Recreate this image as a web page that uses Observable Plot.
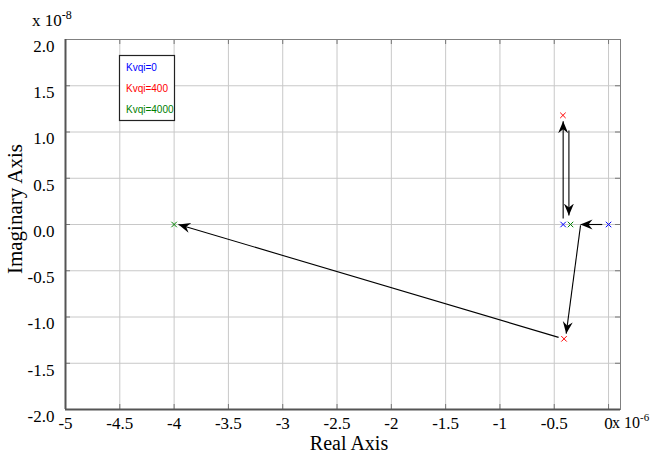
<!DOCTYPE html>
<html>
<head>
<meta charset="utf-8">
<script src="https://cdn.jsdelivr.net/npm/d3@7"></script>
<script src="https://cdn.jsdelivr.net/npm/@observablehq/plot@0.6"></script>
<style>
  html, body { margin: 0; padding: 0; background: #fff; }
</style>
</head>
<body>
<div id="chart"></div>
<script>
// ---- data (units: real ×1e-6, imaginary ×1e-8) ----
const seriesNames = ["Kvqi=0", "Kvqi=400", "Kvqi=4000"];
const seriesColors = ["#0000ff", "#ff0000", "#008000"];
const poleRe0 = [0, -0.418];
const poleIm0 = [0, 0];
const poleRe400 = [-0.42, -0.41];
const poleIm400 = [1.18, -1.236];
const poleRe4000 = [-0.35, -4.0];
const poleIm4000 = [0, 0];
// arrows (start -> end)
const arrowX1 = [-0.418, -0.365, -0.058, -0.258, -0.46];
const arrowY1 = [0.065, 1.016, 0, -0.01, -1.22];
const arrowX2 = [-0.418, -0.365, -0.258, -0.39, -3.96];
const arrowY2 = [1.117, 0.097, 0, -1.18, 0];
const xTicks = [-5, -4.5, -4, -3.5, -3, -2.5, -2, -1.5, -1, -0.5, 0];
const yTicks = [-2, -1.5, -1, -0.5, 0, 0.5, 1, 1.5, 2];
const xLabel = "Real Axis";
const yLabel = "Imaginary Axis";

// ---- build tables ----
const poleRe = [poleRe0, poleRe400, poleRe4000];
const poleIm = [poleIm0, poleIm400, poleIm4000];
const poles = [];
seriesNames.forEach((name, k) => {
  poleRe[k].forEach((re, i) => poles.push({series: name, re, im: poleIm[k][i]}));
});
const arrows = arrowX1.map((x1, i) => ({x1, y1: arrowY1[i], x2: arrowX2[i], y2: arrowY2[i]}));

// ---- layout ----
const W = 652, H = 453, mL = 65, mR = 32, mT = 39, mB = 44;
const iw = W - mL - mR, ih = H - mT - mB;
const serif = "'Liberation Serif', 'Times New Roman', serif";
const sans = "'Liberation Sans', Arial, sans-serif";

function arrowHead(color) {
  const m = d3.create("svg:marker")
    .attr("viewBox", "-12 -6 12 12")
    .attr("markerWidth", 12).attr("markerHeight", 12)
    .attr("markerUnits", "userSpaceOnUse")
    .attr("refX", 0).attr("refY", 0)
    .attr("orient", "auto");
  m.append("path").attr("d", "M0,0L-12,-5L-8,0L-12,5Z").attr("fill", color).attr("stroke", "none");
  return m.node();
}

const svg = Plot.plot({
  width: W, height: H,
  marginLeft: mL, marginRight: mR, marginTop: mT, marginBottom: mB,
  style: {fontFamily: serif, fontSize: "17px", background: "#fff", color: "#000", overflow: "visible"},
  x: {domain: [-5, 0.11], label: null, axis: null},
  y: {domain: [-2, 2], label: null, axis: null},
  color: {domain: seriesNames, range: seriesColors},
  marks: [
    Plot.gridX(xTicks, {stroke: "#c8c8c8", strokeOpacity: 1}),
    Plot.gridY(yTicks, {stroke: "#c8c8c8", strokeOpacity: 1}),
    Plot.tickX(xTicks, {x: d => d, insetTop: ih - 5, stroke: "#777"}),
    Plot.tickX(xTicks, {x: d => d, insetBottom: ih - 5, stroke: "#777"}),
    Plot.tickY(yTicks, {y: d => d, insetRight: iw - 5, stroke: "#777"}),
    Plot.tickY(yTicks, {y: d => d, insetLeft: iw - 5, stroke: "#777"}),
    Plot.frame({stroke: "#808080"}),
    Plot.ruleX([-5], {stroke: "#555", strokeWidth: 2}),
    Plot.ruleY([-2], {stroke: "#555", strokeWidth: 2}),
    Plot.axisX(xTicks, {anchor: "bottom", tickSize: 0, tickPadding: 7, tickFormat: d => String(d), label: null, fontSize: 17, fontFamily: serif, fontVariant: "normal"}),
    Plot.axisY(yTicks, {anchor: "left", tickSize: 0, tickPadding: 11, dy: 7, tickFormat: d => d.toFixed(1), label: null, fontSize: 17, fontFamily: serif, fontVariant: "normal"}),
    Plot.link(arrows, {x1: "x1", y1: "y1", x2: "x2", y2: "y2", stroke: "#000", strokeWidth: 1.1, markerEnd: arrowHead}),
    Plot.dot(poles, {x: "re", y: "im", stroke: "series", symbol: "times", r: 2.6, strokeWidth: 1})
  ]
});

const s = d3.select(svg);
// exponent labels
const e1 = s.append("text").attr("x", 32).attr("y", 26).attr("text-anchor", "start").attr("font-family", serif).attr("font-size", 17).attr("fill", "#000").text("x 10");
e1.append("tspan").attr("dy", -7).attr("font-size", 12).text("-8");
const e2 = s.append("text").attr("x", 612).attr("y", 428).attr("text-anchor", "start").attr("font-family", serif).attr("font-size", 16).attr("fill", "#000").text("x 10");
e2.append("tspan").attr("dy", -7).attr("font-size", 11).text("-6");
// axis titles
s.append("text").attr("x", 349).attr("y", 450).attr("text-anchor", "middle").attr("font-family", serif).attr("font-size", 20).attr("fill", "#000").text(xLabel);
s.append("text").attr("transform", "translate(22,209) rotate(-90)").attr("text-anchor", "middle").attr("font-family", serif).attr("font-size", 21).attr("fill", "#000").text(yLabel);
// legend
const lg = s.append("g").attr("text-anchor", "start");
lg.append("rect").attr("x", 119.5).attr("y", 55.5).attr("width", 55).attr("height", 65).attr("fill", "#fff").attr("stroke", "#222").attr("stroke-width", 1.2);
seriesNames.forEach((name, k) => {
  lg.append("text").attr("x", 126).attr("y", 70.5 + k * 21).attr("text-anchor", "start").attr("font-family", sans).attr("font-size", 10).attr("fill", seriesColors[k]).text(name);
});

document.getElementById("chart").appendChild(svg);
</script>
</body>
</html>
